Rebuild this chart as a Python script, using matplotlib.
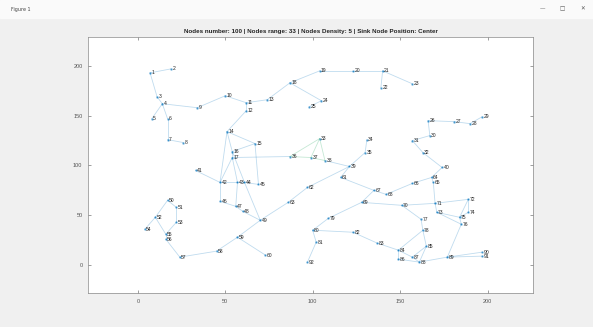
import matplotlib
matplotlib.use("Agg")
import matplotlib.pyplot as plt

# node positions (m) and graph edges
node_x = [7, 19, 11, 14, 8, 17, 17, 26, 34, 50,
          62, 62, 74, 51, 67, 54, 54, 87, 104, 123,
          140, 139, 157, 105, 98, 166, 181, 190, 197, 167,
          157, 163, 104, 131, 130, 87, 99, 107, 121, 174,
          33, 47, 57, 61, 69, 47, 56, 60, 70, 17,
          22, 10, 22, 4, 16, 16, 24, 45, 57, 73,
          116, 97, 86, 168, 169, 157, 135, 142, 128, 151,
          170, 189, 171, 189, 184, 185, 162, 163, 109, 100,
          102, 123, 137, 149, 165, 149, 157, 161, 177, 197,
          197, 97]
node_y = [193, 197, 169, 162, 147, 147, 126, 123, 158, 170,
          163, 155, 166, 134, 122, 114, 108, 183, 195, 195,
          195, 178, 182, 165, 159, 145, 144, 142, 149, 130,
          125, 113, 127, 126, 113, 109, 108, 105, 99, 98,
          95, 83, 83, 83, 81, 64, 59, 54, 45, 65,
          58, 48, 43, 36, 31, 26, 8, 14, 28, 10,
          88, 78, 63, 88, 83, 82, 75, 71, 63, 60,
          62, 66, 53, 53, 48, 41, 46, 35, 47, 35,
          23, 33, 22, 15, 19, 6, 8, 3, 8, 13,
          9, 3]
edges = [(1, 2), (1, 3), (3, 4), (4, 5), (4, 6), (6, 7), (7, 8), (4, 9), (9, 10),
         (10, 11), (11, 13), (11, 12), (12, 14), (14, 15), (14, 16), (15, 16),
         (16, 17), (13, 18), (18, 19), (19, 20), (20, 21), (21, 22), (21, 23),
         (18, 24), (24, 25), (17, 42), (17, 43), (41, 42), (42, 43), (43, 44),
         (44, 45), (42, 46), (43, 47), (46, 47), (47, 48), (48, 49), (44, 49),
         (14, 42), (15, 45), (16, 44), (49, 59), (59, 58), (58, 57), (59, 60),
         (49, 63), (50, 51), (50, 52), (51, 53), (52, 54), (53, 55), (55, 56),
         (56, 57), (52, 55), (38, 39), (39, 61), (17, 36), (34, 35),
         (35, 39), (39, 62), (62, 63), (61, 67), (67, 68), (69, 70), (68, 66),
         (66, 64), (64, 40), (40, 32), (32, 31), (31, 30), (30, 26), (26, 27),
         (27, 28), (28, 29), (65, 71), (71, 72), (71, 73), (72, 74), (73, 75),
         (74, 75), (75, 76), (73, 76), (72, 75), (70, 71), (70, 77), (77, 78),
         (78, 85), (85, 88), (85, 87), (69, 79), (79, 80), (80, 81), (81, 92),
         (80, 82), (82, 83), (83, 84), (84, 86), (86, 88), (84, 87), (87, 88),
         (88, 89), (89, 90), (89, 91), (76, 89), (78, 84), (67, 69), (64, 65)]
# links around the sink at the centre
sink_edges = [(36, 37), (37, 38), (38, 33), (33, 37), (33, 36)]

title = ("Nodes number: 100 | Nodes range: 33 | Nodes Density: 5 | "
         "Sink Node Position: Center")

fig = plt.figure(figsize=(5.93, 3.27), dpi=100, facecolor="#f0f0f0")

# window title bar
fig.patches.append(plt.Rectangle((0, 0.945), 1, 0.055, transform=fig.transFigure,
                                 color="#fafafa", zorder=0))
fig.text(0.018, 0.972, "Figure 1", fontsize=3.5, color="#444444", va="center")
for xx, s in [(0.915, "\u2014"), (0.948, "\u25a1"), (0.982, "\u2715")]:
    fig.text(xx, 0.972, s, fontsize=4, color="#555555", va="center", ha="center")

ax = fig.add_axes([0.1484, 0.104, 0.7504, 0.7829])
ax.set_facecolor("white")

for a, b in edges:
    ax.plot([node_x[a - 1], node_x[b - 1]], [node_y[a - 1], node_y[b - 1]],
            color="#0072BD", alpha=0.25, lw=0.6, zorder=1)
for a, b in sink_edges:
    ax.plot([node_x[a - 1], node_x[b - 1]], [node_y[a - 1], node_y[b - 1]],
            color="#3cb371", alpha=0.3, lw=0.6, zorder=1)

ax.scatter(node_x, node_y, s=0.6, color="#0072BD", alpha=0.5, zorder=2)
for i, (x, y) in enumerate(zip(node_x, node_y)):
    ax.annotate(str(i + 1), (x, y), xytext=(1.0, 0), textcoords="offset points",
                fontsize=3.6, color="#222222", va="center", family="Liberation Sans")

ax.set_xlim(-28.5, 226)
ax.set_ylim(-28, 229)
ax.set_xticks([0, 50, 100, 150, 200])
ax.set_yticks([0, 50, 100, 150, 200])
ax.tick_params(direction="in", length=2, width=0.4, labelsize=4, colors="#555555",
               top=True, right=True, pad=4)
for sp in ax.spines.values():
    sp.set_linewidth(0.5)
    sp.set_color("#888888")
for lbl in ax.get_xticklabels() + ax.get_yticklabels():
    lbl.set_family("Liberation Sans")

ax.set_title(title, fontsize=4.5, fontweight="bold", family="Liberation Sans",
             color="#222222", pad=3)

fig.savefig("out.png", dpi=100, facecolor=fig.get_facecolor())
